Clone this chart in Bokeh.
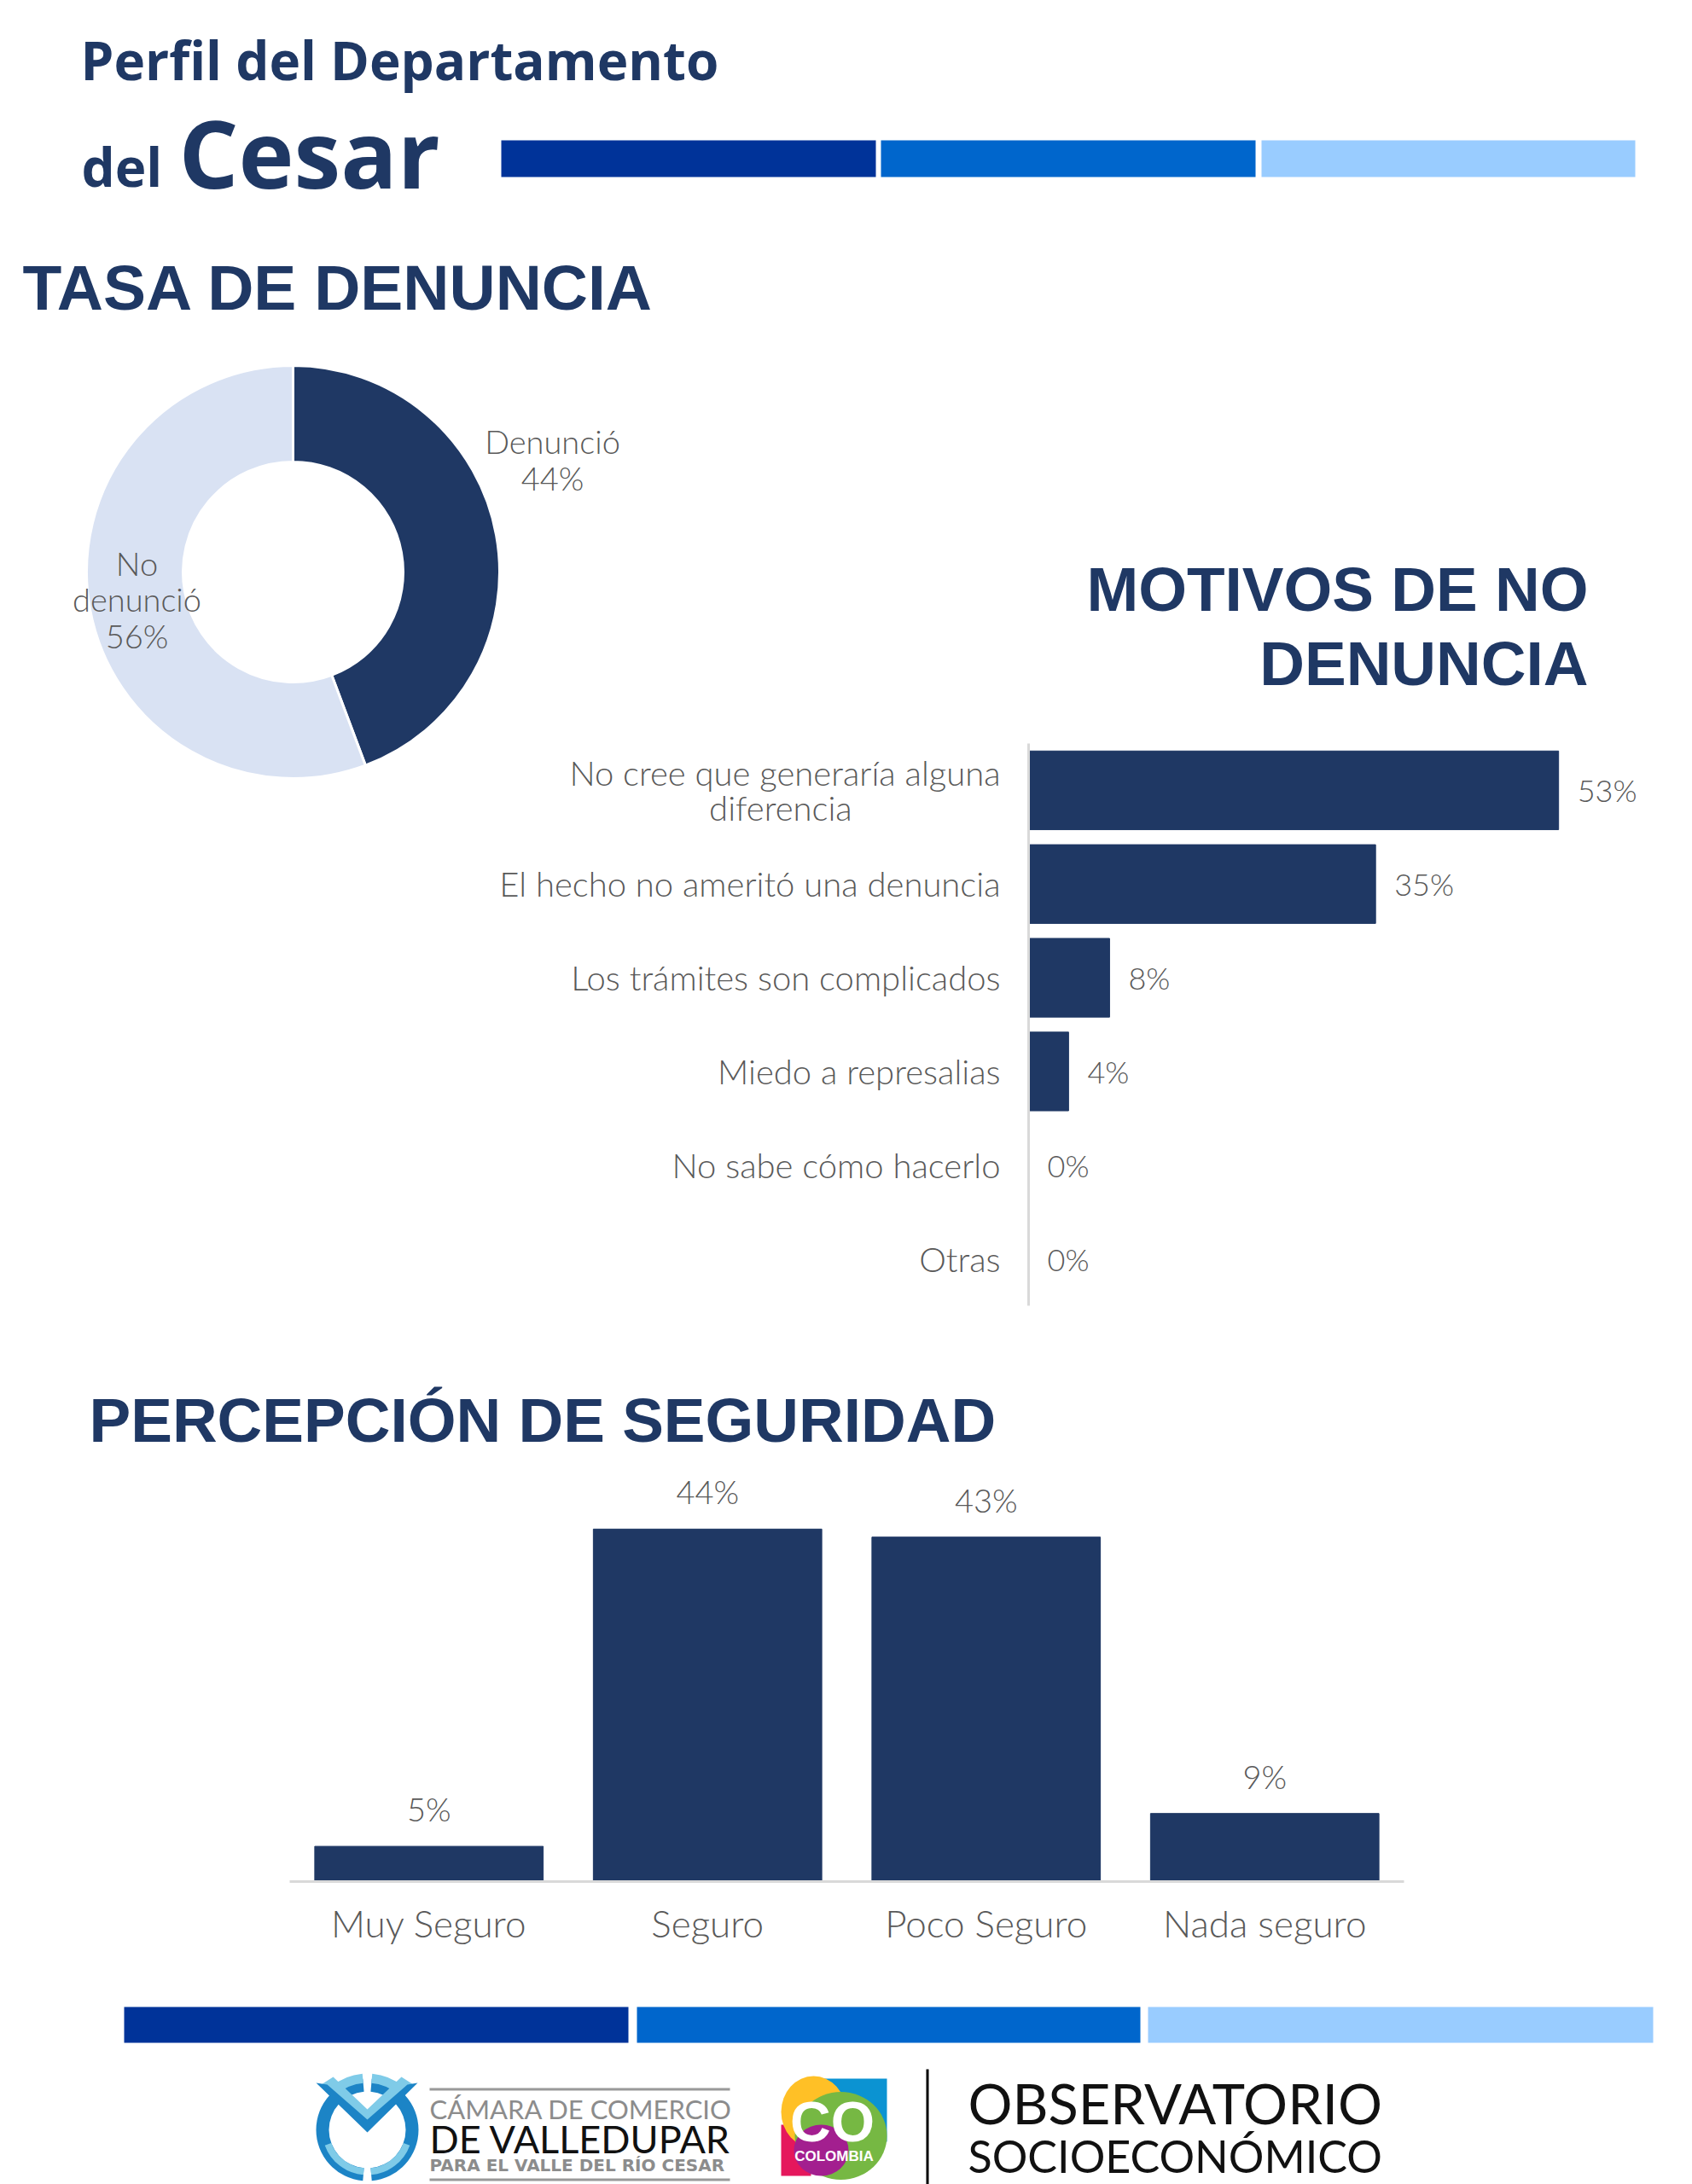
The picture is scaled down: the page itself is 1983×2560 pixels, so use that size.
from bokeh.plotting import figure
from bokeh.core.properties import value
from bokeh.models import ColumnDataSource, FactorRange, Range1d
from bokeh.embed import file_html
from bokeh.resources import INLINE
from math import pi

# Datos
donut_labels = ["Denunció", "No\ndenunció"]
donut_values = [44.3, 55.7]
donut_texts = ["44%", "56%"]

motivos = ["No cree que generaría alguna\ndiferencia", "El hecho no ameritó una denuncia",
           "Los trámites son complicados", "Miedo a represalias", "No sabe cómo hacerlo", "Otras"]
motivos_values = [53.0, 34.7, 8.1, 4.0, 0, 0]
motivos_texts = ["53%", "35%", "8%", "4%", "0%", "0%"]

seguridad = ["Muy Seguro", "Seguro", "Poco Seguro", "Nada seguro"]
seguridad_values = [4.4, 44.0, 43.0, 8.5]
seguridad_texts = ["5%", "44%", "43%", "9%"]

NAVY = "#1F3864"
LIGHT = "#D9E2F3"
TEXT = "#595959"
FONT = "Lato Light, Lato, sans-serif"
TITLE_FONT = "Liberation Sans"
W, H = 1967, 2552


def Y(py):
    return 2560 - py


def layer(x0, x1, y0, y1, x_range, y_range):
    # figura transparente del tamano de la pagina, con el marco en (x0..x1, y0..y1) de la imagen
    p = figure(width=W, height=H, x_range=x_range, y_range=y_range, output_backend="svg",
               toolbar_location=None, min_border_left=x0 - 8, min_border_right=W + 8 - x1,
               min_border_top=y0 - 8, min_border_bottom=H + 8 - y1,
               styles={"position": "absolute", "left": "8px", "top": "8px"})
    p.border_fill_color = None
    p.background_fill_color = None
    p.outline_line_color = None
    p.grid.grid_line_color = None
    return p


# Fondo: encabezado, titulos, bandas y logos
bg = layer(8, 8 + W, 8, 8 + H, Range1d(8, 8 + W), Range1d(0, H))
bg.axis.visible = False


def txt(x, py, s, size, color=NAVY, font=TITLE_FONT, style="bold", align="left"):
    # py es la linea base de la letra; el texto se ancla en su centro
    bg.text([x], [Y(py - 0.36 * size)], text=[s], text_font=value(font), text_font_size=f"{size}px",
            text_font_style=style, text_color=color, text_align=align, text_baseline="middle")


txt(94, 92, "Perfil del Departamento", 62, font="Open Sans")
txt(95, 217, "del", 62, font="Open Sans")
txt(209, 217, "Cesar", 110, font="Open Sans")
txt(26, 363, "TASA DE DENUNCIA", 75)
txt(1861, 716, "MOTIVOS DE NO", 73, align="right")
txt(1861, 803, "DENUNCIA", 73, align="right")
txt(104, 1690, "PERCEPCIÓN DE SEGURIDAD", 73)

bands = ["#003399", "#0066CC", "#99CCFF"]
for c, x0, x1 in zip(bands, [587, 1032, 1478], [1026, 1471, 1916]):
    bg.quad(left=[x0], right=[x1], top=[Y(164)], bottom=[Y(207)], fill_color=c, line_color=None)
for c, x0, x1 in zip(bands, [145, 746, 1345], [736, 1336, 1937]):
    bg.quad(left=[x0], right=[x1], top=[Y(2352)], bottom=[Y(2394)], fill_color=c, line_color=None)

# Logo Camara de Comercio
RING = "#1C84C6"
PALE = "#7FCBE8"
cx, cy = 430, 2496
for a0, a1 in [(-85, 85), (95, 265)]:
    bg.annular_wedge([cx], [Y(cy)], inner_radius=45, outer_radius=60, start_angle=a0 * pi / 180,
                     end_angle=a1 * pi / 180, fill_color=RING, line_color=None)
for a0, a1 in [(50, 85), (95, 130)]:
    bg.annular_wedge([cx], [Y(cy)], inner_radius=55, outer_radius=66, start_angle=a0 * pi / 180,
                     end_angle=a1 * pi / 180, fill_color=PALE, line_color=None)
for a0, a1 in [(-85, -20), (200, 265)]:
    bg.annular_wedge([cx], [Y(cy)], inner_radius=45, outer_radius=53, start_angle=a0 * pi / 180,
                     end_angle=a1 * pi / 180, fill_color=PALE, line_color=None)
bg.patch([376, 390, 430, 470, 484, 430], [Y(v) for v in [2443, 2434, 2472, 2434, 2443, 2486]],
         fill_color=PALE, line_color=None)
bg.patch([370, 383, 430, 477, 489, 430], [Y(v) for v in [2441, 2443, 2484, 2443, 2441, 2499]],
         fill_color=RING, line_color=None)
for py in [2447, 2553]:
    bg.quad(left=[503], right=[855], top=[Y(py)], bottom=[Y(py + 3)], fill_color="#999999", line_color=None)
txt(503, 2483, "CÁMARA DE COMERCIO", 31, color="#8C8C8C", font="Lato", style="normal")
txt(503, 2523, "DE VALLEDUPAR", 45, color="#111111", font="Lato", style="normal")
txt(503, 2545, "PARA EL VALLE DEL RÍO CESAR", 20, color="#8C8C8C", font="DejaVu Sans")

# Logo Colombia
bg.quad(left=[960], right=[1039], top=[Y(2436)], bottom=[Y(2510)], fill_color="#0B93D2", line_color=None)
bg.quad(left=[915], right=[950], top=[Y(2490)], bottom=[Y(2550)], fill_color="#E5175C", line_color=None)
bg.ellipse([953], [Y(2475)], width=76, height=84, fill_color="#FFC026", line_color=None)
bg.ellipse([985], [Y(2503)], width=108, height=103, fill_color="#76B843", line_color=None)
bg.ellipse([962], [Y(2520)], width=64, height=60, fill_color="#A31F8F", line_color=None)
txt(975, 2510, "CO", 66, color="white", font="Liberation Sans", align="center")
txt(977, 2533, "COLOMBIA", 17, color="white", font="Liberation Sans", align="center")

bg.quad(left=[1085], right=[1088], top=[Y(2425)], bottom=[Y(2560)], fill_color="black", line_color=None)
txt(1134, 2488, "OBSERVATORIO", 65, color="#111111", font="Lato", style="normal")
txt(1134, 2545, "SOCIOECONÓMICO", 52, color="#111111", font="Lato", style="normal")

# Dona
donut = layer(60, 760, 420, 920, Range1d(-283, 417), Range1d(-250, 250))
donut.axis.visible = False
starts, ends = [], []
acc = 0
for v in donut_values:
    starts.append(pi / 2 - 2 * pi * (acc + v) / 100)
    ends.append(pi / 2 - 2 * pi * acc / 100)
    acc += v
donut_src = ColumnDataSource(data=dict(start=starts, end=ends, color=[NAVY, LIGHT]))
donut.annular_wedge(0, 0, inner_radius=129, outer_radius=242, start_angle="start", end_angle="end",
                    fill_color="color", line_color="white", line_width=3, source=donut_src)
donut_lab = ColumnDataSource(data=dict(x=[304, -183], y=[132, -32],
                                       t=[f"{a}\n{b}" for a, b in zip(donut_labels, donut_texts)]))
donut.text("x", "y", text="t", source=donut_lab, text_font=value(FONT), text_font_size="38px", text_color=TEXT,
           text_align="center", text_baseline="middle", text_line_height=0.92)

# Barras horizontales: la segunda linea de la primera etiqueta va centrada con espacios duros
UNIT = 11.72
motivos_ticks = [motivos[0] + "\u00a0" * 16] + motivos[1:]
bars = layer(1205, 1975, 871, 1530, Range1d(0, 770 / UNIT), FactorRange(factors=motivos_ticks[::-1]))
mot_src = ColumnDataSource(data=dict(cat=motivos_ticks, val=motivos_values, t=motivos_texts))
bars.hbar(y="cat", right="val", left=0, height=0.84, color=NAVY, source=mot_src)
bars.text("val", "cat", text="t", source=mot_src, x_offset=22, text_font=value(FONT), text_font_size="36px",
          text_color=TEXT, text_align="left", text_baseline="middle")
bars.xaxis.visible = False
bars.yaxis.axis_line_color = "#D9D9D9"
bars.yaxis.axis_line_width = 3
bars.yaxis.major_tick_line_color = None
bars.yaxis.minor_tick_line_color = None
bars.yaxis.major_label_standoff = 27
bars.yaxis.major_label_text_font = FONT
bars.yaxis.major_label_text_font_size = "40px"
bars.yaxis.major_label_text_color = TEXT
bars.yaxis.major_label_text_line_height = 0.86

# Barras verticales
UNIT_V = 9.39
seg = layer(339, 1645, 1700, 2205, FactorRange(factors=seguridad), Range1d(0, 505 / UNIT_V))
seg_src = ColumnDataSource(data=dict(cat=seguridad, val=seguridad_values, t=seguridad_texts))
seg.vbar(x="cat", top="val", width=0.82, color=NAVY, source=seg_src)
seg.text("cat", "val", text="t", source=seg_src, y_offset=-44, text_font=value(FONT), text_font_size="38px",
         text_color=TEXT, text_align="center", text_baseline="middle")
seg.yaxis.visible = False
seg.xaxis.axis_line_color = "#D9D9D9"
seg.xaxis.axis_line_width = 3
seg.xaxis.major_tick_line_color = None
seg.xaxis.minor_tick_line_color = None
seg.xaxis.major_label_standoff = 16
seg.xaxis.major_label_text_font = FONT
seg.xaxis.major_label_text_font_size = "44px"
seg.xaxis.major_label_text_color = TEXT

open("out.html", "w").write(file_html([bg, donut, bars, seg], INLINE))
